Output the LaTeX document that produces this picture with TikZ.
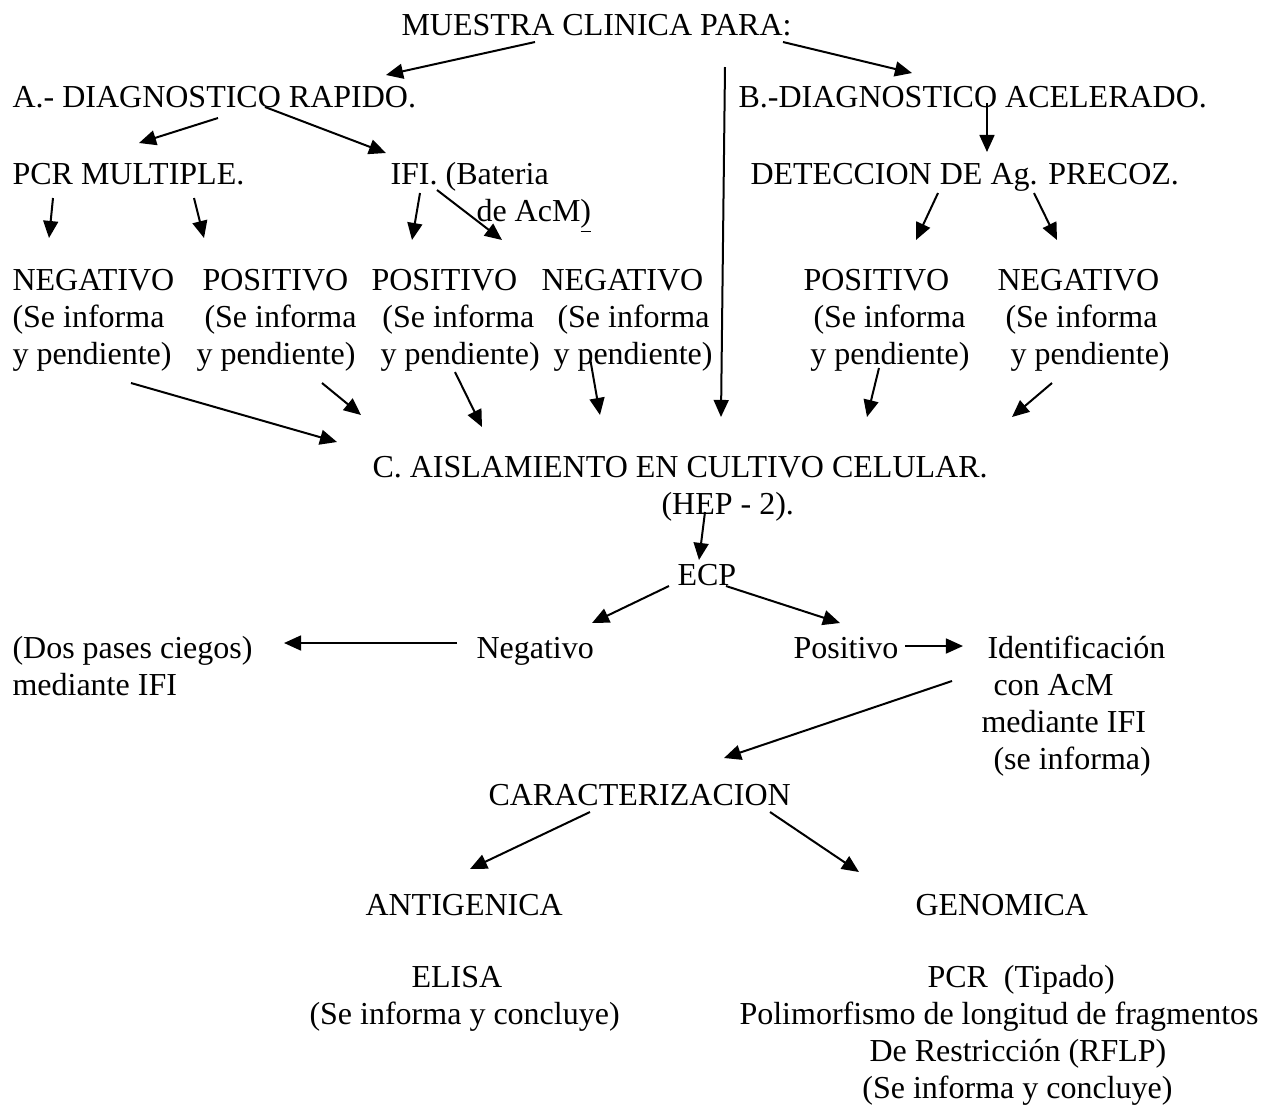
\documentclass[tikz,border=0pt]{standalone}
\usepackage{fontspec}
\setmainfont{Liberation Serif}
\usetikzlibrary{arrows.meta}
\begin{document}
\begin{tikzpicture}[x=0.375pt,y=-0.375pt,
  flecha/.style={black,line width=0.75pt,-{Triangle[length=6.4pt,width=5.6pt]}},
  bloque/.style={anchor=base west,align=left}]
\tikzstyle{every node}+=[inner sep=0pt,anchor=base west,font=\fontsize{12}{13.875}\selectfont]
\useasboundingbox (0,0) rectangle (1269,1105);
\draw (401,35) node (muestra) {MUESTRA CLINICA PARA:};
\draw (12,107) node (diagA) {A.- DIAGNOSTICO RAPIDO.};
\draw (738,107) node (diagB) {B.-DIAGNOSTICO ACELERADO.};
\draw (12,184) node (pcr) {PCR MULTIPLE.};
\draw (390,221) node [bloque] (ifi) {IFI. (Bateria\\\hspace*{32.25pt}de AcM\underline{)}};
\draw (750,184) node (det) {DETECCION DE Ag. PRECOZ.};
\draw (12,364) node [bloque] (neg1) {NEGATIVO\\(Se informa\\y pendiente)};
\draw (196,364) node [bloque] (pos1) {\hspace*{2.25pt}POSITIVO\\\hspace*{3pt}(Se informa\\y pendiente)};
\draw (371,364) node [bloque] (pos2) {POSITIVO\\\hspace*{4.1pt}(Se informa\\\hspace*{3.4pt}y pendiente)};
\draw (541,364) node [bloque] (neg2) {NEGATIVO\\\hspace*{6pt}(Se informa\\\hspace*{4.5pt}y pendiente)};
\draw (803,364) node [bloque] (pos3) {POSITIVO\\\hspace*{3.75pt}(Se informa\\\hspace*{2.6pt}y pendiente)};
\draw (997,364) node [bloque] (neg3) {NEGATIVO\\\hspace*{3pt}(Se informa\\\hspace*{4.9pt}y pendiente)};
\draw (372,477) node (caisl) {C. AISLAMIENTO EN CULTIVO CELULAR.};
\draw (661,514) node (hep) {(HEP - 2).};
\draw (677,585) node (ecp) {ECP};
\draw (12,695) node [bloque] (dos) {(Dos pases ciegos)\\mediante IFI};
\draw (476,658) node (neg) {Negativo};
\draw (793,658) node (pos) {Positivo};
\draw (981,769) node [bloque] (ident) {\hspace*{2.25pt}Identificación\\\hspace*{4.5pt}con AcM\\mediante IFI\\\hspace*{4.5pt}(se informa)};
\draw (488,805) node (car) {CARACTERIZACION};
\draw (365,915) node (ant) {ANTIGENICA};
\draw (915,915) node (gen) {GENOMICA};
\draw (309,1024) node [bloque] (elisa) {\hspace*{38.25pt}ELISA\\(Se informa y concluye)};
\draw (739,1098) node [bloque] (genom) {\hspace*{70.5pt}PCR\ \ (Tipado)\\Polimorfismo de longitud de fragmentos\\\hspace*{48.75pt}De Restricción (RFLP)\\\hspace*{46.1pt}(Se informa y concluye)};
% flechas
\draw [flecha] ([shift={(134,7)}]muestra.base west) -- ([shift={(374,-32)}]diagA.base west);
\draw [flecha] ([shift={(382,7)}]muestra.base west) -- ([shift={(174,-34)}]diagB.base west);
\draw [flecha] ([shift={(324,32)}]muestra.base west) -- ([shift={(349,-60)}]caisl.base west);
\draw [flecha] ([shift={(206,11)}]diagA.base west) -- ([shift={(127,-41)}]pcr.base west);
\draw [flecha] ([shift={(253,0)}]diagA.base west) -- ([shift={(-4,-68)}]ifi.base west);
\draw [flecha] ([shift={(249,-4)}]diagB.base west) -- ([shift={(237,-32)}]det.base west);
\draw [flecha] ([shift={(41,14)}]pcr.base west) -- ([shift={(37,-126)}]neg1.base west);
\draw [flecha] ([shift={(182,14)}]pcr.base west) -- ([shift={(8,-126)}]pos1.base west);
\draw [flecha] ([shift={(30,-28)}]ifi.base west) -- ([shift={(41,-124)}]pos2.base west);
\draw [flecha] ([shift={(47,-31)}]ifi.base west) -- ([shift={(-39,-124)}]neg2.base west);
\draw [flecha] ([shift={(188,9)}]det.base west) -- ([shift={(113,-124)}]pos3.base west);
\draw [flecha] ([shift={(284,9)}]det.base west) -- ([shift={(60,-124)}]neg3.base west);
\draw [flecha] ([shift={(119,19)}]neg1.base west) -- ([shift={(-35,-35)}]caisl.base west);
\draw [flecha] ([shift={(126,19)}]pos1.base west) -- ([shift={(-11,-62)}]caisl.base west);
\draw [flecha] ([shift={(84,8)}]pos2.base west) -- ([shift={(110,-50)}]caisl.base west);
\draw [flecha] ([shift={(49,-6)}]neg2.base west) -- ([shift={(228,-62)}]caisl.base west);
\draw [flecha] ([shift={(76,4)}]pos3.base west) -- ([shift={(495,-60)}]caisl.base west);
\draw [flecha] ([shift={(55,19)}]neg3.base west) -- ([shift={(640,-60)}]caisl.base west);
\draw [flecha] ([shift={(44,-2)}]hep.base west) -- ([shift={(22,-25)}]ecp.base west);
\draw [flecha] ([shift={(-8,1)}]ecp.base west) -- ([shift={(116,-35)}]neg.base west);
\draw [flecha] ([shift={(49,1)}]ecp.base west) -- ([shift={(47,-35)}]pos.base west);
\draw [flecha] ([shift={(-19,-15)}]neg.base west) -- ([shift={(272,-52)}]dos.base west);
\draw [flecha] ([shift={(112,-12)}]pos.base west) -- ([shift={(-18,-123)}]ident.base west);
\draw [flecha] ([shift={(-29,-88)}]ident.base west) -- ([shift={(236,-47)}]car.base west);
\draw [flecha] ([shift={(102,7)}]car.base west) -- ([shift={(105,-46)}]ant.base west);
\draw [flecha] ([shift={(282,7)}]car.base west) -- ([shift={(-56,-43)}]gen.base west);
\end{tikzpicture}
\end{document}
